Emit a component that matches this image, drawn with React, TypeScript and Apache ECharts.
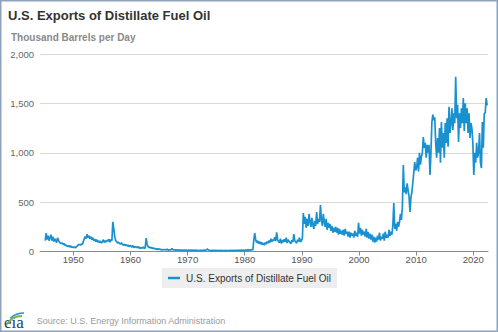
import React, { useEffect, useRef } from "react";
import * as echarts from "echarts";

// Monthly-ish readings: six values per year (thousand barrels per day)
const exports1940s = [
  110, 185, 120, 160, 110, 140, // 1945
  170, 110, 150, 100, 130, 115, // 1946
  90, 140, 110, 95, 85, 80, // 1947
  85, 70, 80, 60, 65, 55, // 1948
  50, 60, 45, 55, 40, 45, // 1949
];
const exports1950s = [
  40, 45, 38, 50, 60, 70,
  70, 65, 75, 70, 100, 130,
  150, 130, 175, 140, 160, 130,
  150, 120, 140, 110, 125, 100,
  120, 95, 110, 90, 105, 85,
  100, 120, 90, 110, 95, 115,
  105, 125, 95, 120, 110, 300,
  230, 150, 110, 100, 85, 95,
  80, 75, 90, 70, 65, 75,
  60, 70, 55, 65, 50, 60,
];
const exports1960s = [
  55, 45, 60, 40, 50, 45,
  40, 50, 35, 45, 30, 40,
  35, 45, 30, 40, 135, 70,
  50, 40, 45, 35, 40, 30,
  35, 25, 30, 20, 28, 22,
  25, 18, 22, 15, 20, 18,
  20, 15, 25, 14, 18, 16,
  15, 30, 20, 15, 18, 14,
  16, 12, 18, 13, 15, 12,
  14, 12, 16, 11, 14, 12,
];
const exports1970s = [
  12, 15, 11, 14, 12, 13,
  12, 10, 14, 11, 12, 10,
  11, 13, 10, 12, 11, 14,
  12, 16, 25, 18, 13, 11,
  10, 12, 9, 11, 10, 12,
  10, 9, 11, 10, 9, 11,
  9, 10, 8, 11, 9, 10,
  10, 9, 11, 10, 12, 9,
  11, 10, 13, 9, 11, 12,
  12, 10, 14, 11, 13, 12,
];
const exports1980s = [
  14, 12, 16, 13, 18, 14,
  16, 20, 15, 115, 185, 120,
  90, 110, 80, 100, 75, 95,
  70, 85, 65, 90, 75, 100,
  85, 110, 90, 130, 100, 120,
  110, 145, 105, 195, 120, 100,
  90, 130, 80, 115, 95, 125,
  100, 140, 85, 120, 105, 90,
  80, 115, 95, 175, 110, 95,
  85, 120, 100, 140, 95, 110,
];
const exports1990s = [
  130, 390, 280, 350, 240, 330,
  260, 380, 300, 250, 340, 270,
  230, 310, 260, 400, 280, 330,
  300, 470, 320, 260, 380, 300,
  250, 330, 220, 290, 240, 280,
  210, 260, 190, 240, 200, 250,
  190, 240, 170, 230, 180, 210,
  170, 220, 160, 230, 180, 200,
  150, 200, 140, 190, 160, 180,
  140, 210, 160, 190, 150, 290,
];
const exports2000s = [
  180, 240, 160, 220, 170, 200,
  150, 230, 140, 200, 130, 180,
  120, 170, 100, 150, 90, 140,
  100, 160, 120, 190, 110, 150,
  130, 180, 110, 200, 140, 170,
  140, 220, 160, 200, 170, 260,
  490, 230, 280, 210, 300, 250,
  300, 380, 320, 450, 875, 600,
  650, 580, 690, 620, 560, 400,
  550, 600, 700, 800, 905, 820,
];
const exports2010s = [
  850, 950, 810, 1000, 880, 960,
  1000, 1160, 1050, 1100, 950, 1080,
  1000, 1080, 775, 1000, 1310, 1385,
  1330, 1360, 1100, 950, 1150, 1000,
  1250, 900, 1310, 1050, 1200, 950,
  1300, 1100, 1350, 1060, 1465, 1200,
  1300, 1450, 1230, 1400, 1300, 1770,
  1350, 1485, 1110, 1400, 1250, 1450,
  1300, 1555, 1220, 1500, 1300, 1450,
  1200, 1400, 1150, 1300, 1250, 1100,
];
const exports2020s = [
  775, 1000, 900, 1100, 950, 1000,
  1200, 900, 845, 1310, 1050, 1400,
  1400, 1555, 1480,
];

const yearTicks = [1950, 1960, 1970, 1980, 1990, 2000, 2010, 2020];

const TITLE = "U.S. Exports of Distillate Fuel Oil";
const UNIT = "Thousand Barrels per Day";
const SERIES_NAME = "U.S. Exports of Distillate Fuel Oil";
const SOURCE = "Source: U.S. Energy Information Administration";

function toPoints(startYear: number, vals: number[]): [number, number][] {
  return vals.map((v, i) => [
    startYear + Math.floor(i / 6) + ((i % 6) + 0.5) / 6,
    v,
  ]);
}

const FONT = "'Liberation Sans', Arial, sans-serif";
const LINE_COLOR = "#1991d1";

export default function App() {
  const ref = useRef<HTMLDivElement>(null);
  useEffect(() => {
    if (!ref.current) return;
    const chart = echarts.init(ref.current, undefined, { renderer: "svg" });
    const data = [
      ...toPoints(1945, exports1940s),
      ...toPoints(1950, exports1950s),
      ...toPoints(1960, exports1960s),
      ...toPoints(1970, exports1970s),
      ...toPoints(1980, exports1980s),
      ...toPoints(1990, exports1990s),
      ...toPoints(2000, exports2000s),
      ...toPoints(2010, exports2010s),
      ...toPoints(2020, exports2020s),
    ];
    chart.setOption({
      animation: false,
      backgroundColor: "#ffffff",
      grid: { left: 40, right: 10, top: 54, bottom: 80.5 },
      xAxis: {
        type: "value",
        min: 1944.17,
        max: 2022.57,
        axisLine: { show: true, lineStyle: { color: "#8a8a8a", width: 1 } },
        axisTick: {
          show: true,
          length: 4,
          customValues: yearTicks,
          lineStyle: { color: "#8a8a8a" },
        },
        axisLabel: {
          customValues: yearTicks,
          color: "#555",
          fontSize: 9.5,
          fontFamily: FONT,
          margin: 3,
          formatter: (v: number) => String(v),
        },
        splitLine: { show: false },
      },
      yAxis: {
        type: "value",
        min: 0,
        max: 2000,
        interval: 500,
        axisLine: { show: false },
        axisTick: { show: false },
        axisLabel: {
          color: "#666",
          fontSize: 9.5,
          fontFamily: FONT,
          margin: 6,
          formatter: (v: number) => v.toLocaleString("en-US"),
        },
        splitLine: { lineStyle: { color: "#d9d9d9", width: 1 } },
      },
      legend: {
        left: 162,
        top: 268,
        padding: [4, 6, 4, 6],
        backgroundColor: "#eeeeee",
        itemWidth: 12,
        itemHeight: 2.5,
        itemGap: 5,
        textStyle: { fontSize: 10, fontFamily: FONT, color: "#333", lineHeight: 12, padding: [0, 0, 0, 1] },
        data: [{ name: SERIES_NAME, icon: "rect", itemStyle: { color: LINE_COLOR } }],
      },
      series: [
        {
          name: SERIES_NAME,
          type: "line",
          data,
          symbol: "none",
          lineStyle: { color: LINE_COLOR, width: 1.7 },
          itemStyle: { color: LINE_COLOR },
        },
      ],
      graphic: [
        {
          type: "rect",
          shape: { x: 0.75, y: 0.75, width: 496.5, height: 330.5 },
          style: { fill: "none", stroke: "#8ea3bb", lineWidth: 1.5 },
          silent: true,
        },
        {
          type: "text",
          x: 8,
          y: 15.7,
          style: {
            text: TITLE,
            font: `bold 13px ${FONT}`,
            fill: "#333",
            verticalAlign: "middle",
          },
        },
        {
          type: "text",
          x: 11,
          y: 37.3,
          style: {
            text: UNIT,
            font: `bold 10px ${FONT}`,
            fill: "#8a8a8a",
            verticalAlign: "middle",
          },
        },
        {
          type: "text",
          x: 36.7,
          y: 320.7,
          style: {
            text: SOURCE,
            font: `9px ${FONT}`,
            fill: "#9a9a9a",
            verticalAlign: "middle",
          },
        },
        {
          type: "text",
          x: 4,
          y: 331,
          style: {
            text: "eia",
            font: `17px 'Liberation Serif', 'DejaVu Serif', serif`,
            fill: "#1f3c6c",
            verticalAlign: "bottom",
          },
        },
        {
          type: "arc",
          shape: { cx: 22, cy: 334, r: 18, startAngle: Math.PI * 1.17, endAngle: Math.PI * 1.5 },
          style: { stroke: "#7cb342", lineWidth: 2, fill: "none" },
        },
        {
          type: "arc",
          shape: { cx: 24, cy: 334, r: 21, startAngle: Math.PI * 1.27, endAngle: Math.PI * 1.5 },
          style: { stroke: "#2b8fd0", lineWidth: 1.5, fill: "none" },
        },
      ],
    });
    return () => chart.dispose();
  }, []);
  return (
    <div
      ref={ref}
      style={{ position: "fixed", left: 0, top: 0, width: 498, height: 332 }}
    />
  );
}
